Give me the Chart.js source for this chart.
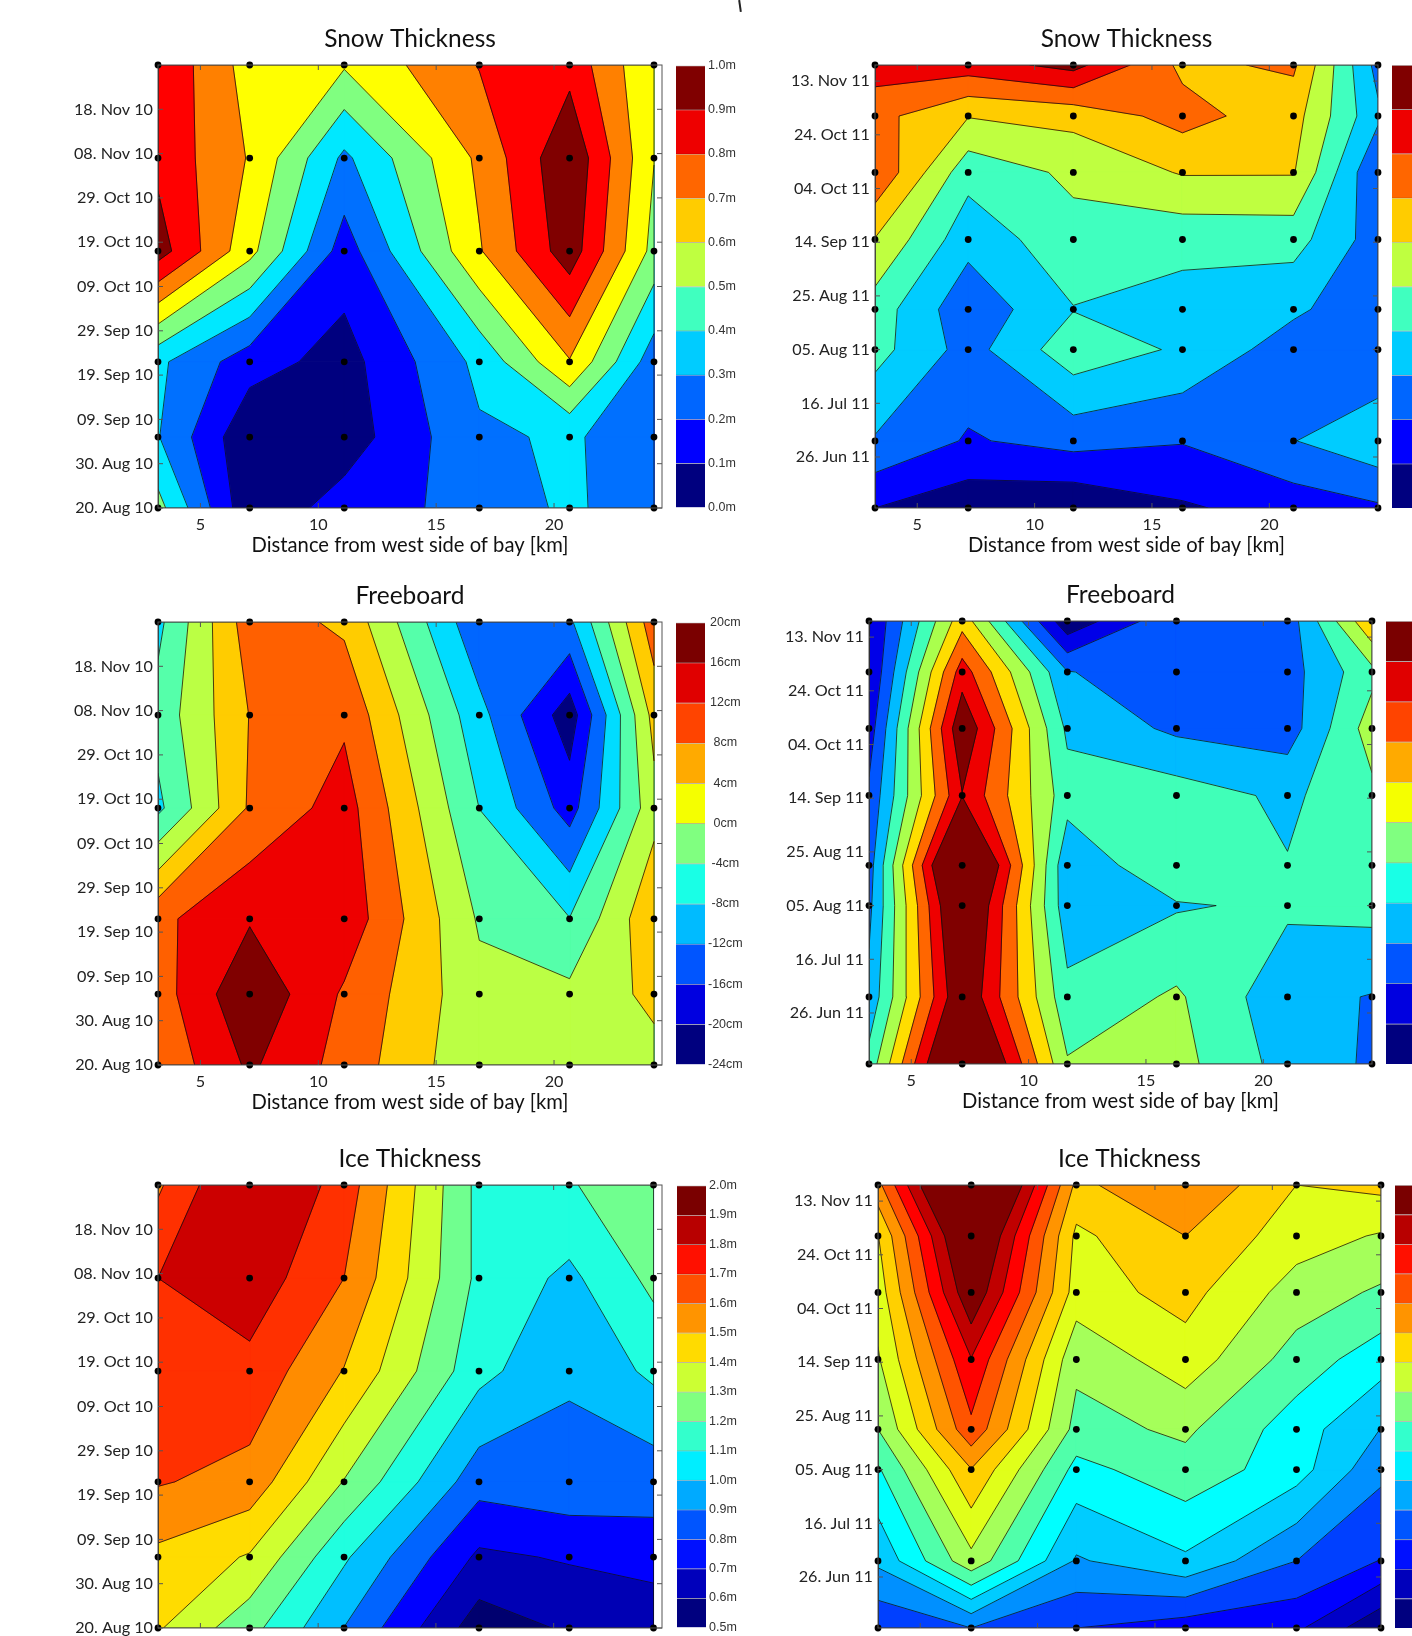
<!DOCTYPE html>
<html>
<head>
<meta charset="utf-8">
<title>Snow, freeboard and ice thickness</title>
<script src="https://cdn.jsdelivr.net/npm/chart.js@4"></script>
<style>
html, body { margin: 0; padding: 0; width: 1412px; height: 1636px; overflow: hidden; background: #fff; }
canvas { position: absolute; }
#stray { position: absolute; left: 739px; top: 0; width: 2px; height: 12px; background: #222; transform: rotate(-8deg); }
</style>
</head>
<body>
<div id="stray"></div>
<script>
// survey stations [km] and survey dates [days from the bottom of each axis]
const stationsWest = [3.2, 7.09, 11.1, 16.83, 20.66, 24.24];
const stationsEast = [3.2, 7.17, 11.65, 16.3, 21.03, 24.63];
const surveys2010 = [0, 16, 33, 58, 79, 100];
const surveys2011 = [0, 25, 59, 74, 100, 125, 146, 165];

const xTicks = [5, 10, 15, 20];
const tickDays2010 = [0, 10, 20, 30, 40, 50, 60, 70, 80, 90];
const tickLabels2010 = ['20. Aug 10', '30. Aug 10', '09. Sep 10', '19. Sep 10', '29. Sep 10', '09. Oct 10', '19. Oct 10', '29. Oct 10', '08. Nov 10', '18. Nov 10'];
const tickDays2011 = [19, 39, 59, 79, 99, 119, 139, 159];
const tickLabels2011 = ['26. Jun 11', '16. Jul 11', '05. Aug 11', '25. Aug 11', '14. Sep 11', '04. Oct 11', '24. Oct 11', '13. Nov 11'];

// grids: one row per survey date (oldest first), one value per station
const snow2010 = [
    [0.482, 0.027, 0.160, 0.264, 0.354, 0.258],
    [0.339, 0.019, 0.051, 0.316, 0.347, 0.270],
    [0.356, 0.159, 0.067, 0.362, 0.658, 0.270],
    [0.940, 0.590, 0.167, 0.656, 0.950, 0.518],
    [0.859, 0.657, 0.310, 0.689, 0.983, 0.558],
    [0.876, 0.619, 0.567, 0.783, 0.851, 0.561]
];
const snow2011 = [
    [0.100, 0.034, 0.015, 0.087, 0.143, 0.185],
    [0.290, 0.190, 0.236, 0.206, 0.297, 0.375],
    [0.437, 0.260, 0.463, 0.385, 0.248, 0.215],
    [0.454, 0.228, 0.396, 0.357, 0.318, 0.231],
    [0.595, 0.335, 0.467, 0.434, 0.440, 0.249],
    [0.790, 0.435, 0.520, 0.608, 0.607, 0.200],
    [0.733, 0.605, 0.633, 0.739, 0.640, 0.320],
    [0.850, 0.852, 0.934, 0.677, 0.717, 0.264]
];
const freeboard2010 = [
    [7.77, 16.35, 9.53, -1.21, -1.12, 0.86],
    [9.13, 19.3, 10.58, -0.68, -0.9, 3.5],
    [10.1, 15.16, 14.19, -2.53, -6.27, 5.96],
    [-7.41, 7.37, 13.18, -6.44, -17.05, 0.86],
    [-4.73, 6.93, 10.36, -9.35, -22.02, 3.9],
    [-7.54, 9.22, 5.92, -14.28, -11.68, 9.35]
];
const freeboard2011 = [
    [-4.77, 27.92, -1.56, -0.42, -8.16, -11.42],
    [-9.61, 20.22, -5.08, -1.34, -9.44, -11.02],
    [-11.86, 23.96, -9.26, -6.84, -5.61, -4.95],
    [-12.78, 29.24, -9.92, -2.44, -6.18, -4.2],
    [-14.32, 15.38, -4.51, -4.2, -7.28, -3.1],
    [-17.49, 19.47, -7.24, -11.72, -13.04, 0.16],
    [-19.6, 13.4, -10.58, -13.44, -12.69, -3.23],
    [-19.78, 5.04, -22.9, -11.42, -13.35, 6.36]
];
const ice2010 = [
    [1.513, 1.293, 0.998, 0.558, 0.641, 0.631],
    [1.594, 1.488, 1.144, 0.725, 0.763, 0.819],
    [1.760, 1.706, 1.369, 0.925, 0.965, 0.925],
    [1.813, 1.838, 1.619, 1.165, 1.013, 1.154],
    [1.875, 1.953, 1.750, 1.220, 1.096, 1.284],
    [1.730, 2.050, 1.819, 1.215, 1.241, 1.325]
];
const ice2011 = [
    [0.795, 0.875, 0.781, 0.730, 0.706, 0.516],
    [0.989, 1.316, 0.958, 1.046, 0.875, 0.777],
    [1.144, 1.527, 1.125, 1.215, 1.104, 0.898],
    [1.250, 1.695, 1.218, 1.267, 1.109, 0.967],
    [1.334, 1.808, 1.274, 1.399, 1.208, 1.104],
    [1.386, 1.993, 1.396, 1.470, 1.303, 1.235],
    [1.434, 2.094, 1.417, 1.531, 1.386, 1.335],
    [1.597, 2.281, 1.508, 1.620, 1.438, 1.464]
];

// contour levels and the fill of each band between them
const snowLevels2010 = [0, 0.111, 0.222, 0.333, 0.444, 0.555, 0.666, 0.777, 0.888, 1];
const snowLevels2011 = [0, 0.1, 0.2, 0.3, 0.4, 0.5, 0.6, 0.7, 0.8, 0.9, 1];
const freeboardLevels = [-24, -19.6, -15.2, -10.8, -6.4, -2, 2.4, 6.8, 11.2, 15.6, 20];
const iceLevels2010 = [0.5, 0.625, 0.75, 0.875, 1, 1.125, 1.25, 1.375, 1.5, 1.625, 1.75, 1.875, 2];
const iceLevels2011 = [0.5, 0.594, 0.688, 0.781, 0.875, 0.969, 1.063, 1.156, 1.25, 1.344, 1.438, 1.531, 1.625, 1.719, 1.813, 1.906, 2];

const jet9 = ['#00007f', '#0000ff', '#0070ff', '#00e8ff', '#80ff80', '#ffff00', '#ff8000', '#ff0000', '#800000'];
const jet10 = ['#00007f', '#0000ff', '#0066ff', '#00ccff', '#40ffbf', '#bfff40', '#ffcc00', '#ff6600', '#ee0000', '#800000'];
const jet10b = ['#00007f', '#0000e8', '#0055ff', '#00bbff', '#40ffb8', '#aaff4d', '#ffdd00', '#ff6600', '#ee0000', '#800000'];
const jet10c = ['#00007f', '#0000ff', '#0066ff', '#00dcff', '#55ffaa', '#bbff44', '#ffcc00', '#ff6000', '#ee0000', '#800000'];
const jet12 = ['#00006f', '#0000b4', '#0000ff', '#0064ff', '#00bfff', '#20ffdf', '#70ff8f', '#cfff30', '#ffdc00', '#ff8c00', '#ff3000', '#cc0000'];
const jet16 = ['#00008f', '#0000c8', '#0000ff', '#0040ff', '#0090ff', '#00ccff', '#00ffff', '#50ffaa', '#a5ff5a', '#e0ff1a', '#ffd000', '#ff9400', '#ff5400', '#ff0000', '#c00000', '#800000'];

// colourbars
const barMetres = [0, 0.1, 0.2, 0.3, 0.4, 0.5, 0.6, 0.7, 0.8, 0.9, 1];
const barCm = [-24, -20, -16, -12, -8, -4, 0, 4, 8, 12, 16, 20];
const barIce = [0.5, 0.6, 0.7, 0.8, 0.9, 1, 1.1, 1.2, 1.3, 1.4, 1.5, 1.6, 1.7, 1.8, 1.9, 2];
const barColorsMetres = jet10;
const barColorsCm = ['#00007f', '#0000e0', '#0055ff', '#00bbff', '#19ffe6', '#80ff80', '#f5ff00', '#ffaa00', '#ff4400', '#e00000', '#7a0000'];
const barColorsIce = ['#00007f', '#0000bb', '#0010ff', '#0055ff', '#00aaff', '#00eeff', '#33ffcc', '#80ff80', '#ccff33', '#ffdb00', '#ff9400', '#ff5000', '#ff1000', '#b80000', '#7a0000'];

const panels = [
    { title: 'Snow Thickness', xs: stationsWest, ys: surveys2010, grid: snow2010, levels: snowLevels2010, colors: jet9,
      ticks: tickDays2010, labels: tickLabels2010, bar: barMetres, barColors: barColorsMetres, unit: v => v.toFixed(1) + 'm',
      box: [157.5, 65, 661, 508], xMax: 24.58, barLeft: 676, barLabels: true, xLabels: true },
    { title: 'Snow Thickness', xs: stationsEast, ys: surveys2011, grid: snow2011, levels: snowLevels2011, colors: jet10,
      ticks: tickDays2011, labels: tickLabels2011, bar: barMetres, barColors: barColorsMetres, unit: v => v.toFixed(1) + 'm',
      box: [874.8, 65, 1378, 508], xMax: 24.63, barLeft: 1392, barLabels: false, xLabels: true },
    { title: 'Freeboard', xs: stationsWest, ys: surveys2010, grid: freeboard2010, levels: freeboardLevels, colors: jet10c,
      ticks: tickDays2010, labels: tickLabels2010, bar: barCm, barColors: barColorsCm, unit: v => v + 'cm',
      box: [157.5, 621.8, 661, 1064.6], xMax: 24.58, barLeft: 676, barLabels: true, xLabels: true },
    { title: 'Freeboard', xs: stationsEast, ys: surveys2011, grid: freeboard2011, levels: freeboardLevels, colors: jet10b,
      ticks: tickDays2011, labels: tickLabels2011, bar: barCm, barColors: barColorsCm, unit: v => v + 'cm',
      box: [868.5, 621.2, 1371.6, 1064.6], xMax: 24.63, barLeft: 1386, barLabels: false, xLabels: true },
    { title: 'Ice Thickness', xs: stationsWest, ys: surveys2010, grid: ice2010, levels: iceLevels2010, colors: jet12,
      ticks: tickDays2010, labels: tickLabels2010, bar: barIce, barColors: barColorsIce, unit: v => v.toFixed(1) + 'm',
      box: [157.5, 1185, 661.8, 1628.3], xMax: 24.6, barLeft: 677, barLabels: true, xLabels: false },
    { title: 'Ice Thickness', xs: stationsEast, ys: surveys2011, grid: ice2011, levels: iceLevels2011, colors: jet16,
      ticks: tickDays2011, labels: tickLabels2011, bar: barIce, barColors: barColorsIce, unit: v => v.toFixed(1) + 'm',
      box: [877.7, 1185, 1380.8, 1628.3], xMax: 24.63, barLeft: 1395.4, barLabels: false, xLabels: false }
];

const textFont = 'Lato, "Open Sans", sans-serif';

function cellCorners(p, i, j) {
    return [
        { x: p.xs[j], y: p.ys[i], z: p.grid[i][j] },
        { x: p.xs[j + 1], y: p.ys[i], z: p.grid[i][j + 1] },
        { x: p.xs[j + 1], y: p.ys[i + 1], z: p.grid[i + 1][j + 1] },
        { x: p.xs[j], y: p.ys[i + 1], z: p.grid[i + 1][j] }
    ];
}

function edgeHit(a, b, level) {
    const t = (level - a.z) / (b.z - a.z);
    return { x: a.x + t * (b.x - a.x), y: a.y + t * (b.y - a.y) };
}

// part of a cell at or above level, as one polygon (two when a saddle splits it)
function cellAbove(c, level) {
    const mean = (c[0].z + c[1].z + c[2].z + c[3].z) / 4;
    const saddle = (c[0].z >= level) === (c[2].z >= level) && (c[1].z >= level) === (c[3].z >= level) && (c[0].z >= level) !== (c[1].z >= level);
    if (saddle && mean < level) {
        const first = c[0].z >= level ? 0 : 1;
        return [first, first + 2].map(n => {
            const k = c[n % 4], prev = c[(n + 3) % 4], next = c[(n + 1) % 4];
            return [edgeHit(prev, k, level), k, edgeHit(k, next, level)];
        });
    }
    const poly = [];
    c.forEach((a, n) => {
        const b = c[(n + 1) % 4];
        if (a.z >= level) poly.push(a);
        if ((a.z >= level) !== (b.z >= level)) poly.push(edgeHit(a, b, level));
    });
    return poly.length >= 3 ? [poly] : [];
}

// bands are painted bottom-up, each one over everything at or above its lower level
function bandData(p, k) {
    const data = [];
    for (let i = 0; i < p.ys.length - 1; i++) {
        for (let j = 0; j < p.xs.length - 1; j++) {
            const c = cellCorners(p, i, j);
            const polys = k === 0 ? [c] : cellAbove(c, p.levels[k]);
            polys.forEach(poly => {
                poly.forEach(v => data.push({ x: v.x, y: v.y }));
                data.push({ x: poly[0].x, y: poly[0].y }, { x: NaN, y: NaN });
            });
        }
    }
    return data;
}

function contourData(p) {
    const data = [];
    for (let k = 1; k < p.colors.length; k++) {
        const level = p.levels[k];
        for (let i = 0; i < p.ys.length - 1; i++) {
            for (let j = 0; j < p.xs.length - 1; j++) {
                const c = cellCorners(p, i, j);
                const hits = [];
                c.forEach((a, n) => {
                    const b = c[(n + 1) % 4];
                    hits.push((a.z >= level) !== (b.z >= level) ? edgeHit(a, b, level) : null);
                });
                const found = hits.filter(h => h);
                if (found.length === 2) {
                    data.push(found[0], found[1], { x: NaN, y: NaN });
                } else if (found.length === 4) {
                    const mean = (c[0].z + c[1].z + c[2].z + c[3].z) / 4;
                    if ((c[0].z >= level) !== (mean >= level)) {
                        data.push(hits[3], hits[0], { x: NaN, y: NaN }, hits[1], hits[2], { x: NaN, y: NaN });
                    } else {
                        data.push(hits[0], hits[1], { x: NaN, y: NaN }, hits[2], hits[3], { x: NaN, y: NaN });
                    }
                }
            }
        }
    }
    // outline of the surveyed area
    const x0 = p.xs[0], x1 = p.xs[p.xs.length - 1], y0 = p.ys[0], y1 = p.ys[p.ys.length - 1];
    data.push({ x: x0, y: y0 }, { x: x1, y: y0 }, { x: x1, y: y1 }, { x: x0, y: y1 }, { x: x0, y: y0 });
    return data;
}

function stationPoints(p) {
    const pts = [];
    p.ys.forEach(y => p.xs.forEach(x => pts.push({ x: x, y: y })));
    return pts;
}

// axes box with short inward ticks on all sides
const framePlugin = {
    id: 'frame',
    afterDatasetsDraw(chart) {
        const { ctx, chartArea: a, scales } = chart;
        ctx.save();
        ctx.strokeStyle = '#555';
        ctx.lineWidth = 1;
        ctx.strokeRect(a.left, a.top, a.right - a.left, a.bottom - a.top);
        ctx.beginPath();
        scales.x.ticks.forEach(t => {
            const px = scales.x.getPixelForValue(t.value);
            ctx.moveTo(px, a.bottom); ctx.lineTo(px, a.bottom - 5);
            ctx.moveTo(px, a.top); ctx.lineTo(px, a.top + 5);
        });
        scales.y.ticks.forEach(t => {
            const py = scales.y.getPixelForValue(t.value);
            ctx.moveTo(a.left, py); ctx.lineTo(a.left + 5, py);
            ctx.moveTo(a.right, py); ctx.lineTo(a.right - 5, py);
        });
        ctx.stroke();
        ctx.restore();
    }
};

function addCanvas(left, top, width, height) {
    const canvas = document.createElement('canvas');
    canvas.width = width;
    canvas.height = height;
    canvas.style.left = left + 'px';
    canvas.style.top = top + 'px';
    canvas.style.width = width + 'px';
    canvas.style.height = height + 'px';
    document.body.appendChild(canvas);
    return canvas;
}

function drawPanel(p) {
    const [left, top, right, bottom] = p.box;
    const axisW = 125, headH = 50, footH = 52, pad = 6;
    const canvas = addCanvas(left - axisW, top - headH, Math.round(right - left) + axisW + pad, Math.round(bottom - top) + headH + footH);

    const datasets = [
        { data: stationPoints(p), showLine: false, pointRadius: 3.4, pointBackgroundColor: '#000', pointBorderWidth: 0, clip: false },
        { data: contourData(p), showLine: true, pointRadius: 0, borderColor: 'rgba(15,15,15,0.85)', borderWidth: 0.9, fill: false, tension: 0, spanGaps: false }
    ];
    // the library draws later datasets first, so the lowest band goes last
    for (let k = p.colors.length - 1; k >= 0; k--) {
        const c = p.colors[k];
        datasets.push({ data: bandData(p, k), showLine: true, pointRadius: 0, backgroundColor: c, borderColor: c, borderWidth: 1, fill: 'shape', tension: 0, spanGaps: false });
    }

    new Chart(canvas, {
        type: 'scatter',
        data: { datasets: datasets },
        options: {
            responsive: false,
            animation: false,
            events: [],
            layout: { padding: { left: 0, right: pad, top: 0, bottom: 0 } },
            plugins: {
                legend: { display: false },
                tooltip: { enabled: false },
                title: {
                    display: true, text: p.title, fullSize: false, color: '#111',
                    font: { family: textFont, size: 24.5, weight: 'normal', lineHeight: 1.2 },
                    padding: { top: 9, bottom: 11.6 }
                }
            },
            scales: {
                x: {
                    type: 'linear', min: p.xs[0], max: p.xMax,
                    grid: { display: false, drawTicks: false }, border: { display: false },
                    afterBuildTicks: s => { s.ticks = xTicks.map(v => ({ value: v })); },
                    afterFit: s => { s.height = footH; },
                    ticks: { display: p.xLabels, autoSkip: false, maxRotation: 0, color: '#222', padding: 7, font: { family: textFont, size: 16.2 } },
                    title: { display: p.xLabels, text: 'Distance from west side of bay [km]', color: '#111', padding: { top: 0, bottom: 2 }, font: { family: textFont, size: 20.2 } }
                },
                y: {
                    type: 'linear', min: p.ys[0], max: p.ys[p.ys.length - 1],
                    grid: { display: false, drawTicks: false }, border: { display: false },
                    afterBuildTicks: s => { s.ticks = p.ticks.map(v => ({ value: v })); },
                    afterFit: s => { s.width = axisW; },
                    ticks: { autoSkip: false, color: '#222', padding: 5, font: { family: textFont, size: 16.2 }, callback: v => p.labels[p.ticks.indexOf(v)] }
                }
            }
        },
        plugins: [framePlugin]
    });
}

function drawColourbar(p) {
    const [, top, , bottom] = p.box;
    const barW = 29, labelW = 44, pad = 10;
    const canvas = addCanvas(p.barLeft, top - pad, barW + labelW, Math.round(bottom - top) + 2 * pad);
    const datasets = p.barColors.map((c, k) => ({
        data: [[p.bar[k], p.bar[k + 1]]],
        backgroundColor: c,
        borderColor: 'rgba(0,0,0,0.25)',
        borderWidth: { top: 1, bottom: 0, left: 0, right: 0 },
        borderSkipped: false,
        grouped: false,
        barPercentage: 1,
        categoryPercentage: 1
    }));
    new Chart(canvas, {
        type: 'bar',
        data: { labels: [''], datasets: datasets },
        options: {
            responsive: false,
            animation: false,
            events: [],
            layout: { padding: { top: pad, bottom: pad, left: 0, right: 0 } },
            plugins: { legend: { display: false }, tooltip: { enabled: false } },
            scales: {
                x: { display: false },
                y: {
                    position: 'right', min: p.bar[0], max: p.bar[p.bar.length - 1],
                    grid: { display: false, drawTicks: false }, border: { display: false },
                    afterBuildTicks: s => { s.ticks = p.bar.map(v => ({ value: v })); },
                    afterFit: s => { s.width = labelW; },
                    ticks: { display: p.barLabels, autoSkip: false, padding: 3, crossAlign: 'center', color: '#333', font: { family: '"Liberation Sans", Arial, sans-serif', size: 12.5 }, callback: v => p.unit(v) }
                }
            }
        }
    });
}

panels.forEach(p => {
    drawPanel(p);
    drawColourbar(p);
});
</script>
</body>
</html>
